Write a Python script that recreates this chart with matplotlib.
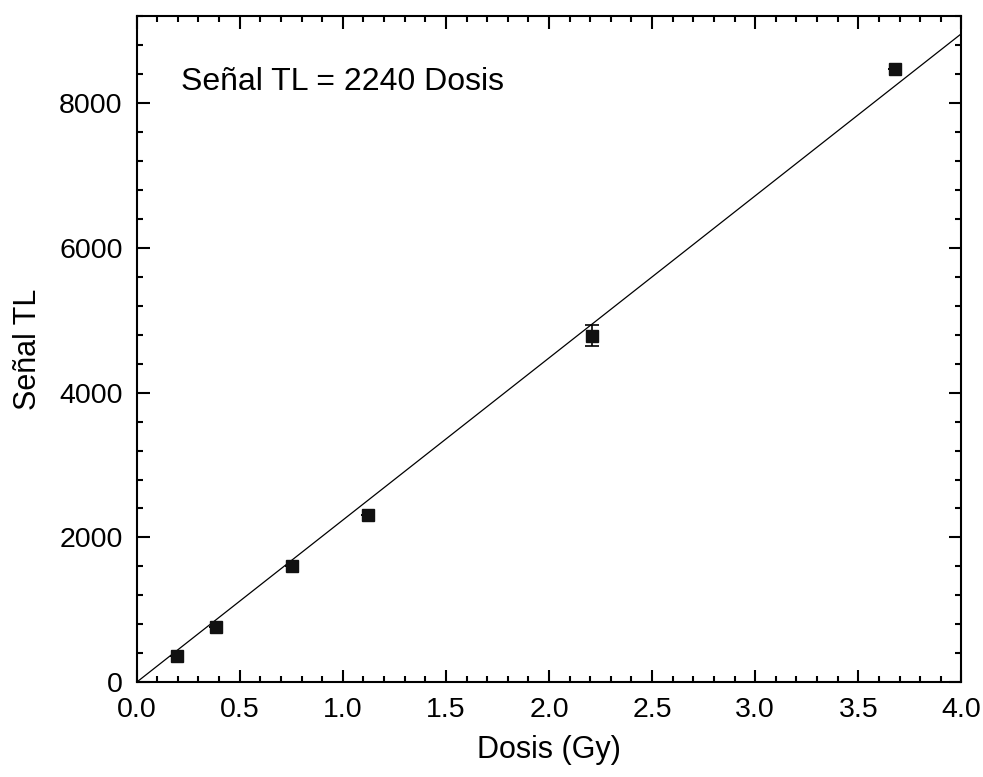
import matplotlib
matplotlib.use("Agg")
import matplotlib.pyplot as plt
from matplotlib.ticker import MultipleLocator, FormatStrFormatter

plt.rcParams['font.family'] = ['Liberation Sans', 'DejaVu Sans']

dosis = [0.195, 0.385, 0.755, 1.12, 2.21, 3.68]
senal = [364, 760, 1605, 2311, 4790, 8470]
senal_err = [0, 0, 0, 0, 150, 0]
slope = 2240
fit_x = [0.0, 4.0]

fig = plt.figure(figsize=(9.83, 7.77), dpi=100)
ax = fig.add_axes([0.139, 0.122, 0.839, 0.857])

ax.plot(fit_x, [slope * v for v in fit_x], color='black', lw=0.9)
ax.errorbar(dosis, senal, yerr=senal_err, fmt='s', color='#111111', ms=8.5,
            ecolor='black', elinewidth=1.2, capsize=5, capthick=1.2)

ax.set_xlim(0, 4.0)
ax.set_ylim(0, 9200)
ax.xaxis.set_major_locator(MultipleLocator(0.5))
ax.xaxis.set_minor_locator(MultipleLocator(0.1))
ax.yaxis.set_major_locator(MultipleLocator(2000))
ax.yaxis.set_minor_locator(MultipleLocator(400))
ax.xaxis.set_major_formatter(FormatStrFormatter('%.1f'))

ax.tick_params(which='both', direction='in', top=True, right=True, width=1.5, labelsize=20.5)
ax.tick_params(which='major', length=9)
ax.tick_params(which='minor', length=4.5)
ax.tick_params(axis='x', which='major', pad=11)
ax.tick_params(axis='y', which='major', pad=10)
for s in ax.spines.values():
    s.set_linewidth(1.5)

ax.set_xlabel('Dosis (Gy)', fontsize=22, labelpad=8)
ax.set_ylabel('Señal TL', fontsize=22, labelpad=12)

ax.text(0.215, 8180, 'Señal TL = 2240 Dosis', fontsize=23, va='baseline', ha='left')

fig.savefig('out.png', dpi=100)
